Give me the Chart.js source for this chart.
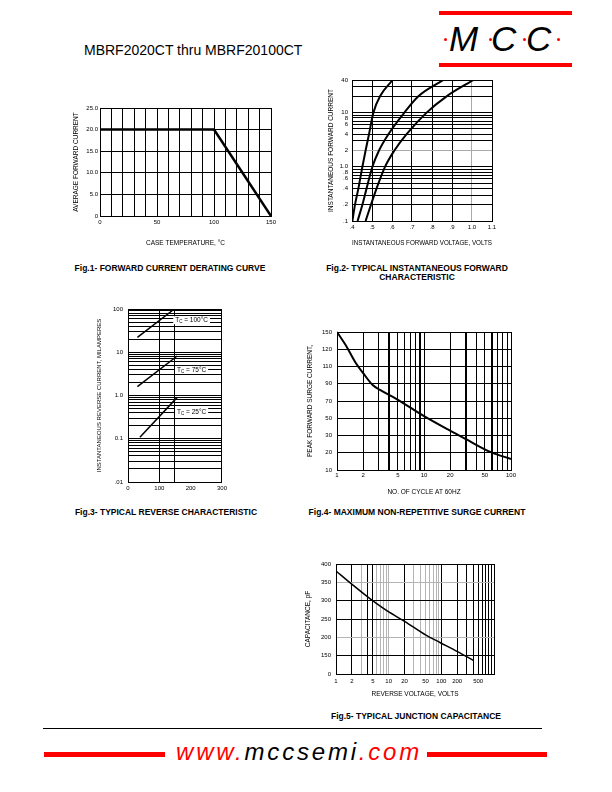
<!DOCTYPE html>
<html>
<head>
<meta charset="utf-8">
<script src="https://cdn.jsdelivr.net/npm/chart.js@4.4.1/dist/chart.umd.min.js"></script>
<style>
  html, body { margin: 0; padding: 0; background: #fff; }
  body { width: 612px; height: 792px; position: relative; overflow: hidden;
         font-family: 'Liberation Sans', Arial, sans-serif; color: #000; }
  canvas, .t, .bar, .dot { position: absolute; }
  .t { white-space: nowrap; line-height: 1; }
  .cap { font-weight: bold; font-size: 8.5px; text-align: center; width: 300px; line-height: 9px; }
  .bar { background: #f00; }
  .dot { width: 3px; height: 3px; border-radius: 50%; background: #f00; }
  .logo { font-style: italic; font-size: 35px; }
  .red { color: #f00; }
</style>
</head>
<body>
<div class="t" style="left:84px;top:43px;font-size:14px">MBRF2020CT thru MBRF20100CT</div>

<!-- logo -->
<div class="bar" style="left:439px;top:11px;width:133px;height:4px"></div>
<div class="bar" style="left:439px;top:63px;width:133px;height:4px"></div>
<div class="dot" style="left:444px;top:38px"></div>
<div class="dot" style="left:489px;top:38px"></div>
<div class="dot" style="left:523px;top:38px"></div>
<div class="dot" style="left:557px;top:38px"></div>
<div class="t logo" style="left:449px;top:21px">M</div>
<div class="t logo" style="left:491px;top:21px">C</div>
<div class="t logo" style="left:526px;top:21px">C</div>

<canvas id="fig1"></canvas>
<canvas id="fig2"></canvas>
<canvas id="fig3"></canvas>
<canvas id="fig4"></canvas>
<canvas id="fig5"></canvas>

<div class="t cap" style="left:20px;top:264px">Fig.1- FORWARD CURRENT DERATING CURVE</div>
<div class="t cap" style="left:267px;top:264px">Fig.2- TYPICAL INSTANTANEOUS FORWARD<br>CHARACTERISTIC</div>
<div class="t cap" style="left:16px;top:508px">Fig.3- TYPICAL REVERSE CHARACTERISTIC</div>
<div class="t cap" style="left:267px;top:508px">Fig.4- MAXIMUM NON-REPETITIVE SURGE CURRENT</div>
<div class="t cap" style="left:266px;top:712px">Fig.5- TYPICAL JUNCTION CAPACITANCE</div>

<!-- footer -->
<div style="position:absolute;left:43px;top:728px;width:499px;height:1px;background:#000"></div>
<div class="bar" style="left:44px;top:752px;width:121px;height:5px"></div>
<div class="bar" style="left:427px;top:752px;width:120px;height:5px"></div>
<div class="t" style="left:176px;top:740px;font-size:24px;font-style:italic;letter-spacing:2.8px"><span class="red">www.</span>mccsemi<span class="red">.com</span></div>

<script>
// Fig.1 - derating curve
const caseTemp = [0, 100, 150];
const avgCurrent = [20, 20, 0];

// Fig.2 - forward characteristic (three curves, current in A vs voltage)
const fwdCurrent = [0.1, 0.2, 0.4, 1, 2, 4, 10, 20, 40];
const fwdVoltA = [0.402, 0.415, 0.432, 0.452, 0.468, 0.485, 0.507, 0.54, 0.603];
const fwdVoltB = [0.428, 0.452, 0.473, 0.502, 0.535, 0.582, 0.662, 0.732, 0.857];
const fwdVoltC = [0.468, 0.495, 0.523, 0.565, 0.612, 0.673, 0.773, 0.873, 1.007];
const fwdVoltTicks = [0.4, 0.5, 0.6, 0.7, 0.8, 0.9, 1.0, 1.1];
const fwdVoltLabels = ['.4', '.5', '.6', '.7', '.8', '.9', '1.0', '1.1'];
const fwdCurTicks = [0.1, 0.2, 0.4, 0.6, 0.8, 1, 2, 4, 6, 8, 10, 40];
const fwdCurLabels = ['.1', '.2', '.4', '.6', '.8', '1.0', '2', '4', '6', '8', '10', '40'];

// Fig.3 - reverse characteristic (mA vs volts)
const revVolt100 = [30, 148];
const revCur100 = [22, 100];
const revVolt75 = [30, 157];
const revCur75 = [1.6, 8.2];
const revVolt25 = [38, 157];
const revCur25 = [0.108, 0.905];
const revLabelTemps = ['100', '75', '25'];
const revLabelVolt = [203, 203, 203];
const revLabelCur = [55, 3.9, 0.42];
const revVoltTicks = [0, 100, 150, 200, 300];
const revCurTicks = [0.01, 0.1, 1, 10, 100];
const revCurLabels = ['.01', '0.1', '1.0', '10', '100'];

// Fig.4 - surge current
const surgeCycles = [1, 1.29, 1.61, 2.01, 2.57, 3.12, 4.85, 9.8, 19.9, 30, 59.4, 100];
const surgeCurrent = [150, 124.5, 112.8, 102, 88.6, 82.8, 72.3, 53, 35.6, 28, 20.2, 16.4];
const surgeAxisTicks = [10, 20, 30, 50, 70, 90, 110, 120, 150];
const surgeCycleLabels = [1, 2, 5, 10, 20, 50, 100];
const surgeHeavyLines = [4, 9, 30, 60];

// Fig.5 - junction capacitance
const capVolt = [1, 2.07, 4.1, 9.4, 20.4, 51, 94, 203, 405];
const capPf = [381, 343, 309, 272, 243, 206, 186, 161, 112];
const capAxisTicks = [0, 150, 200, 250, 300, 350, 400];
const capVoltLabels = [1, 2, 5, 10, 20, 50, 100, 200, 500];
const capLightLinesX = [3, 6, 7, 8, 9, 10, 30, 40, 50, 60, 70, 80, 90];
const capLightLinesY = [350, 200];

const FONT = "'Liberation Sans', Arial, sans-serif";
Chart.defaults.font.family = FONT;
Chart.defaults.font.size = 6;
Chart.defaults.color = '#000';
Chart.defaults.animation = false;
Chart.defaults.plugins.legend.display = false;
Chart.defaults.plugins.tooltip.enabled = false;

const has = (list, v) => list.some((t) => Math.abs(t - v) < 1e-6 * Math.max(1, t));
const labelOf = (values, labels, v) => {
  const i = values.findIndex((t) => Math.abs(t - v) < 1e-6 * Math.max(1, t));
  return i < 0 ? '' : labels[i];
};

// every 1..9 step of each decade between min and max
function logGrid(min, max) {
  const out = [];
  for (let d = Math.floor(Math.log10(min)); d <= Math.ceil(Math.log10(max)); d++) {
    for (let m = 1; m < 10; m++) {
      const v = +(m * Math.pow(10, d)).toPrecision(6);
      if (v >= min - 1e-9 && v <= max + 1e-9) out.push({ value: v });
    }
  }
  return out;
}

// axis whose printed tick values are evenly spaced, whatever their numbers
function piecewiseScale(id, breaks) {
  const n = breaks.length - 1;
  const toIndex = (v) => {
    let i = 0;
    while (i < n - 1 && v > breaks[i + 1]) i++;
    return i + (v - breaks[i]) / (breaks[i + 1] - breaks[i]);
  };
  class Piecewise extends Chart.LinearScale {
    determineDataLimits() { this.min = breaks[0]; this.max = breaks[n]; }
    buildTicks() { return breaks.map((v) => ({ value: v })); }
    getPixelForValue(v) { return this.getPixelForDecimal(toIndex(v) / n); }
    getValueForPixel(p) {
      const d = this.getDecimalForPixel(p) * n;
      const i = Math.max(0, Math.min(n - 1, Math.floor(d)));
      return breaks[i] + (d - i) * (breaks[i + 1] - breaks[i]);
    }
  }
  Piecewise.id = id;
  Piecewise.defaults = {};
  return Piecewise;
}
Chart.register(piecewiseScale('surgeAxis', surgeAxisTicks), piecewiseScale('capAxis', capAxisTicks));

function place(id, x, y, w, h) {
  const c = document.getElementById(id);
  c.style.left = x + 'px';
  c.style.top = y + 'px';
  c.width = w;
  c.height = h;
  return c.getContext('2d');
}

function curve(xs, ys, width, smooth) {
  return {
    data: xs.map((x, i) => ({ x, y: ys[i] })),
    showLine: true,
    borderColor: '#000',
    borderWidth: width,
    pointRadius: 0,
    tension: 0,
    cubicInterpolationMode: smooth ? 'monotone' : 'default'
  };
}

function baseOptions(padTop, padRight) {
  return {
    responsive: false,
    devicePixelRatio: 1,
    layout: { padding: { top: padTop, right: padRight, left: 0, bottom: 0 } },
    scales: {}
  };
}

const titleFont = { size: 6.5 };

// Fig.1
const o1 = baseOptions(10, 9);
o1.scales.x = {
  type: 'linear', min: 0, max: 150,
  ticks: { stepSize: 10, autoSkip: false, maxRotation: 0, padding: 3,
           callback: (v) => (v % 50 === 0 ? String(v) : '') },
  grid: { color: '#000', lineWidth: 1, drawTicks: false },
  border: { color: '#000' },
  title: { display: true, text: 'CASE TEMPERATURE, \u00b0C', font: titleFont, padding: { top: 0, bottom: 3 } },
  afterFit: (s) => { s.height = 34; }
};
o1.scales.y = {
  type: 'linear', min: 0, max: 25,
  ticks: { stepSize: 5, autoSkip: false, padding: 2,
           callback: (v) => (v === 0 ? '0' : v.toFixed(1)) },
  grid: { color: '#000', lineWidth: 1, drawTicks: false },
  border: { color: '#000' },
  title: { display: true, text: 'AVERAGE FORWARD CURRENT', font: titleFont, padding: { top: 17, bottom: 0 } },
  afterFit: (s) => { s.width = 45; }
};
new Chart(place('fig1', 55, 98, 225, 152), {
  type: 'scatter',
  data: { datasets: [curve(caseTemp, avgCurrent, 2.5, false)] },
  options: o1
});

// Fig.2
const o2 = baseOptions(8, 8);
o2.scales.x = {
  type: 'linear', min: 0.4, max: 1.1,
  afterBuildTicks: (s) => { s.ticks = fwdVoltTicks.map((v) => ({ value: v })); },
  ticks: { autoSkip: false, maxRotation: 0, padding: 3,
           callback: (v) => labelOf(fwdVoltTicks, fwdVoltLabels, v) },
  grid: { color: (c) => (c.tick && Math.abs(c.tick.value - 1) < 1e-6 ? '#aaa' : '#000'), lineWidth: 1, drawTicks: false },
  border: { color: '#000' },
  title: { display: true, text: 'INSTANTANEOUS FORWARD VOLTAGE, VOLTS', font: titleFont, padding: { top: 0, bottom: 1 } },
  afterFit: (s) => { s.height = 27; }
};
o2.scales.y = {
  type: 'logarithmic', min: 0.1, max: 40,
  afterBuildTicks: (s) => { s.ticks = logGrid(0.1, 40); },
  ticks: { autoSkip: false, padding: 4,
           callback: (v) => labelOf(fwdCurTicks, fwdCurLabels, v) },
  grid: { color: (c) => (c.tick && Math.abs(c.tick.value - 2) < 1e-6 ? '#aaa' : '#000'), lineWidth: 1, drawTicks: false },
  border: { color: '#000' },
  title: { display: true, text: 'INSTANTANEOUS FORWARD CURRENT', font: titleFont, padding: { top: 12, bottom: 0 } },
  afterFit: (s) => { s.width = 37; }
};
new Chart(place('fig2', 315, 72, 185, 176), {
  type: 'scatter',
  data: { datasets: [
    curve(fwdVoltA, fwdCurrent, 2, true),
    curve(fwdVoltB, fwdCurrent, 2, true),
    curve(fwdVoltC, fwdCurrent, 2, true)
  ] },
  options: o2
});

// Fig.3
const tempLabelPlugin = {
  id: 'tempLabels',
  afterDatasetsDraw(chart) {
    const { ctx, scales } = chart;
    const big = '6.5px ' + FONT;
    const small = '4.5px ' + FONT;
    ctx.save();
    ctx.textBaseline = 'middle';
    ctx.textAlign = 'left';
    revLabelTemps.forEach((temp, i) => {
      const cx = scales.x.getPixelForValue(revLabelVolt[i]);
      const cy = scales.y.getPixelForValue(revLabelCur[i]);
      const rest = ' = ' + temp + '\u00b0C';
      ctx.font = big;
      const wT = ctx.measureText('T').width;
      const wR = ctx.measureText(rest).width;
      ctx.font = small;
      const wC = ctx.measureText('C').width;
      const left = cx - (wT + wC + wR) / 2;
      ctx.fillStyle = '#fff';
      ctx.fillRect(left - 2, cy - 4, wT + wC + wR + 4, 8);
      ctx.fillStyle = '#000';
      ctx.font = big;
      ctx.fillText('T', left, cy);
      ctx.font = small;
      ctx.fillText('C', left + wT, cy + 1.5);
      ctx.font = big;
      ctx.fillText(rest, left + wT + wC, cy);
    });
    ctx.restore();
  }
};
const o3 = baseOptions(9, 8);
o3.scales.x = {
  type: 'linear', min: 0, max: 300,
  afterBuildTicks: (s) => { s.ticks = revVoltTicks.map((v) => ({ value: v })); },
  ticks: { autoSkip: false, maxRotation: 0, padding: 3,
           callback: (v) => (v === 150 ? '' : String(v)) },
  grid: { color: (c) => (c.tick && c.tick.value === 200 ? 'rgba(0,0,0,0)' : '#000'), lineWidth: 1, drawTicks: false },
  border: { color: '#000' },
  afterFit: (s) => { s.height = 16; }
};
o3.scales.y = {
  type: 'logarithmic', min: 0.01, max: 100,
  afterBuildTicks: (s) => { s.ticks = logGrid(0.01, 100); },
  ticks: { autoSkip: false, padding: 5,
           callback: (v) => labelOf(revCurTicks, revCurLabels, v) },
  grid: { color: '#000', lineWidth: 1, drawTicks: false },
  border: { color: '#000' },
  title: { display: true, text: 'INSTANTANEOUS REVERSE CURRENT, MILAMPERES', font: { size: 6 }, padding: { top: 11, bottom: 0 } },
  afterFit: (s) => { s.width = 43; }
};
new Chart(place('fig3', 85, 300, 145, 198), {
  type: 'scatter',
  data: { datasets: [
    curve(revVolt100, revCur100, 1.5, false),
    curve(revVolt75, revCur75, 1.5, false),
    curve(revVolt25, revCur25, 1.5, false)
  ] },
  options: o3,
  plugins: [tempLabelPlugin]
});

// Fig.4
const o4 = baseOptions(10, 9);
o4.scales.x = {
  type: 'logarithmic', min: 1, max: 100,
  afterBuildTicks: (s) => { s.ticks = logGrid(1, 100); },
  ticks: { autoSkip: false, maxRotation: 0, padding: 2,
           callback: (v) => (has(surgeCycleLabels, v) ? String(v) : '') },
  grid: { color: '#000', lineWidth: (c) => (c.tick && has(surgeHeavyLines, c.tick.value) ? 2 : 1), drawTicks: false },
  border: { color: '#000' },
  title: { display: true, text: 'NO. OF CYCLE AT 60HZ', font: titleFont, padding: { top: 0, bottom: 2 } },
  afterFit: (s) => { s.height = 28; }
};
o4.scales.y = {
  type: 'surgeAxis',
  ticks: { autoSkip: false, padding: 5, callback: (v) => String(v) },
  grid: { color: '#000', lineWidth: 1, drawTicks: false },
  border: { color: '#000' },
  title: { display: true, text: 'PEAK FORWARD SURGE CURRENT,', font: titleFont, padding: { top: 11, bottom: 0 } },
  afterFit: (s) => { s.width = 42; }
};
new Chart(place('fig4', 295, 322, 225, 176), {
  type: 'scatter',
  data: { datasets: [curve(surgeCycles, surgeCurrent, 2, true)] },
  options: o4
});

// Fig.5
const o5 = baseOptions(9, 11);
o5.scales.x = {
  type: 'logarithmic', min: 1, max: 1000,
  afterBuildTicks: (s) => { s.ticks = logGrid(1, 1000); },
  ticks: { autoSkip: false, maxRotation: 0, padding: 4,
           callback: (v) => (has(capVoltLabels, v) ? String(v) : '') },
  grid: { color: (c) => (c.tick && has(capLightLinesX, c.tick.value) ? '#b4b4b4' : '#000'), lineWidth: 1, drawTicks: false },
  border: { color: '#000' },
  title: { display: true, text: 'REVERSE VOLTAGE, VOLTS', font: titleFont, padding: { top: 0, bottom: 3 } },
  afterFit: (s) => { s.height = 27; }
};
o5.scales.y = {
  type: 'capAxis',
  ticks: { autoSkip: false, padding: 5, callback: (v) => String(v) },
  grid: { color: (c) => (c.tick && has(capLightLinesY, c.tick.value) ? '#b4b4b4' : '#000'), lineWidth: 1, drawTicks: false },
  border: { color: '#000' },
  title: { display: true, text: 'CAPACITANCE, pF', font: titleFont, padding: { top: 9, bottom: 0 } },
  afterFit: (s) => { s.width = 41; }
};
new Chart(place('fig5', 295, 555, 210, 146), {
  type: 'scatter',
  data: { datasets: [curve(capVolt, capPf, 1.5, true)] },
  options: o5
});
</script>
</body>
</html>
